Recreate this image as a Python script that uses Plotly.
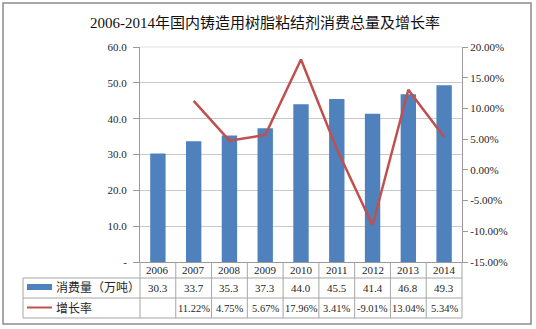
import plotly.graph_objects as go

years = ["2006", "2007", "2008", "2009", "2010", "2011", "2012", "2013", "2014"]
consumption = [30.3, 33.7, 35.3, 37.3, 44.0, 45.5, 41.4, 46.8, 49.3]
growth = [None, 11.22, 4.75, 5.67, 17.96, 3.41, -9.01, 13.04, 5.34]
left_ticks = [0, 10, 20, 30, 40, 50, 60]
left_ticktext = ["-", "10.0", "20.0", "30.0", "40.0", "50.0", "60.0"]
right_ticks = [-15, -10, -5, 0, 5, 10, 15, 20]
series_names = ["消费量（万吨）", "增长率"]
title = "2006-2014年国内铸造用树脂粘结剂消费总量及增长率"

FONT = "Liberation Serif, Noto Sans CJK SC, serif"
BAR_C = "#4F81BD"
LINE_C = "#C0504D"
GRID_C = "#C9C9C9"
AXIS_C = "#9A9A9A"

W, H = 536, 329
L, R, T, B = 140, 74, 47, 67
plot_h = H - T - B
plot_w = W - L - R

def py(px):  # pixel y -> paper y
    return (H - B - px) / plot_h

def pxx(px):  # pixel x -> paper x
    return (px - L) / plot_w

x_idx = list(range(len(years)))

fig = go.Figure()
fig.add_trace(go.Bar(x=x_idx, y=consumption, marker=dict(color=BAR_C, line=dict(width=0)),
                     width=0.43, name=series_names[0], yaxis="y", showlegend=False))
gx = [i for i, g in zip(x_idx, growth) if g is not None]
gy = [g for g in growth if g is not None]
fig.add_trace(go.Scatter(x=gx, y=gy, mode="lines", line=dict(color=LINE_C, width=2.5),
                         name=series_names[1], yaxis="y2", showlegend=False))

shapes = []
annotations = []
row_top, row1, row2, row3 = py(H - B), py(278), py(298), py(318)
line_style = dict(color="#A6A6A6", width=1)
for yv in (row1, row2, row3):
    shapes.append(dict(type="line", xref="paper", yref="paper", x0=pxx(23), x1=1, y0=yv, y1=yv, line=line_style))
for i in range(len(years) + 1):
    xv = pxx(L + plot_w * i / len(years))
    shapes.append(dict(type="line", xref="paper", yref="paper", x0=xv, x1=xv, y0=0, y1=row3, line=line_style))
shapes.append(dict(type="line", xref="paper", yref="paper", x0=pxx(23), x1=pxx(23), y0=row1, y1=row3, line=line_style))
shapes.append(dict(type="line", xref="paper", yref="paper", x0=0, x1=1, y0=1, y1=1, line=dict(color="#E0E0E0", width=1)))
shapes.append(dict(type="rect", xref="paper", yref="paper", x0=pxx(3), x1=pxx(531), y0=py(3), y1=py(324),
                   line=dict(color="#8C8C8C", width=1.5)))
shapes.append(dict(type="rect", xref="paper", yref="paper", x0=pxx(27), x1=pxx(52), y0=py(290), y1=py(284),
                   fillcolor=BAR_C, line=dict(width=0)))
shapes.append(dict(type="line", xref="paper", yref="paper", x0=pxx(27), x1=pxx(52), y0=py(307.5), y1=py(307.5),
                   line=dict(color=LINE_C, width=2)))

tfont = dict(family=FONT, size=11, color="#262626")
c1, c2, c3 = (row_top + row1) / 2, (row1 + row2) / 2, (row2 + row3) / 2
for i, (yr, c, g) in enumerate(zip(years, consumption, growth)):
    annotations.append(dict(x=i, y=c1, xref="x", yref="paper", text=yr, showarrow=False, font=tfont,
                            xanchor="center", yanchor="middle"))
    annotations.append(dict(x=i, y=c2, xref="x", yref="paper", text=f"{c:.1f}", showarrow=False, font=tfont,
                            xanchor="center", yanchor="middle"))
    if g is not None:
        annotations.append(dict(x=i, y=c3, xref="x", yref="paper", text=f"{g:.2f}%", showarrow=False,
                                xanchor="center", yanchor="middle",
                                font=dict(family=FONT, size=10.5, color="#262626")))
for name, cy in zip(series_names, (c2, c3)):
    annotations.append(dict(x=pxx(54), y=cy, xref="paper", yref="paper", text=name, showarrow=False,
                            xanchor="left", yanchor="middle", font=dict(family=FONT, size=12, color="#262626")))
annotations.append(dict(x=pxx(265), y=py(23), xref="paper", yref="paper", text=title, showarrow=False,
                        xanchor="center", yanchor="middle", font=dict(family=FONT, size=15, color="#111111")))

fig.update_layout(
    width=W, height=H,
    margin=dict(l=L, r=R, t=T, b=B, pad=0),
    paper_bgcolor="white", plot_bgcolor="white",
    xaxis=dict(range=[-0.5, len(years) - 0.5], showticklabels=False, ticks="", showgrid=False,
               zeroline=False, showline=True, linecolor=AXIS_C, linewidth=1, fixedrange=True),
    yaxis=dict(range=[0, 60], tickvals=left_ticks, ticktext=left_ticktext, showgrid=True, gridcolor=GRID_C,
               gridwidth=1, zeroline=False, showline=True, linecolor=AXIS_C, linewidth=1,
               ticks="outside", ticklen=6, tickcolor=AXIS_C, ticklabelstandoff=4,
               tickfont=dict(family=FONT, size=11, color="#262626")),
    yaxis2=dict(range=[-15, 20], tickvals=right_ticks, ticktext=[f"{v:.2f}%" for v in right_ticks],
                overlaying="y", side="right", showgrid=False, zeroline=False, showline=True,
                linecolor=AXIS_C, linewidth=1, ticks="outside", ticklen=5, tickcolor=AXIS_C,
                tickfont=dict(family=FONT, size=11, color="#262626")),
    shapes=shapes, annotations=annotations, showlegend=False,
)

fig.write_html("out.html")
